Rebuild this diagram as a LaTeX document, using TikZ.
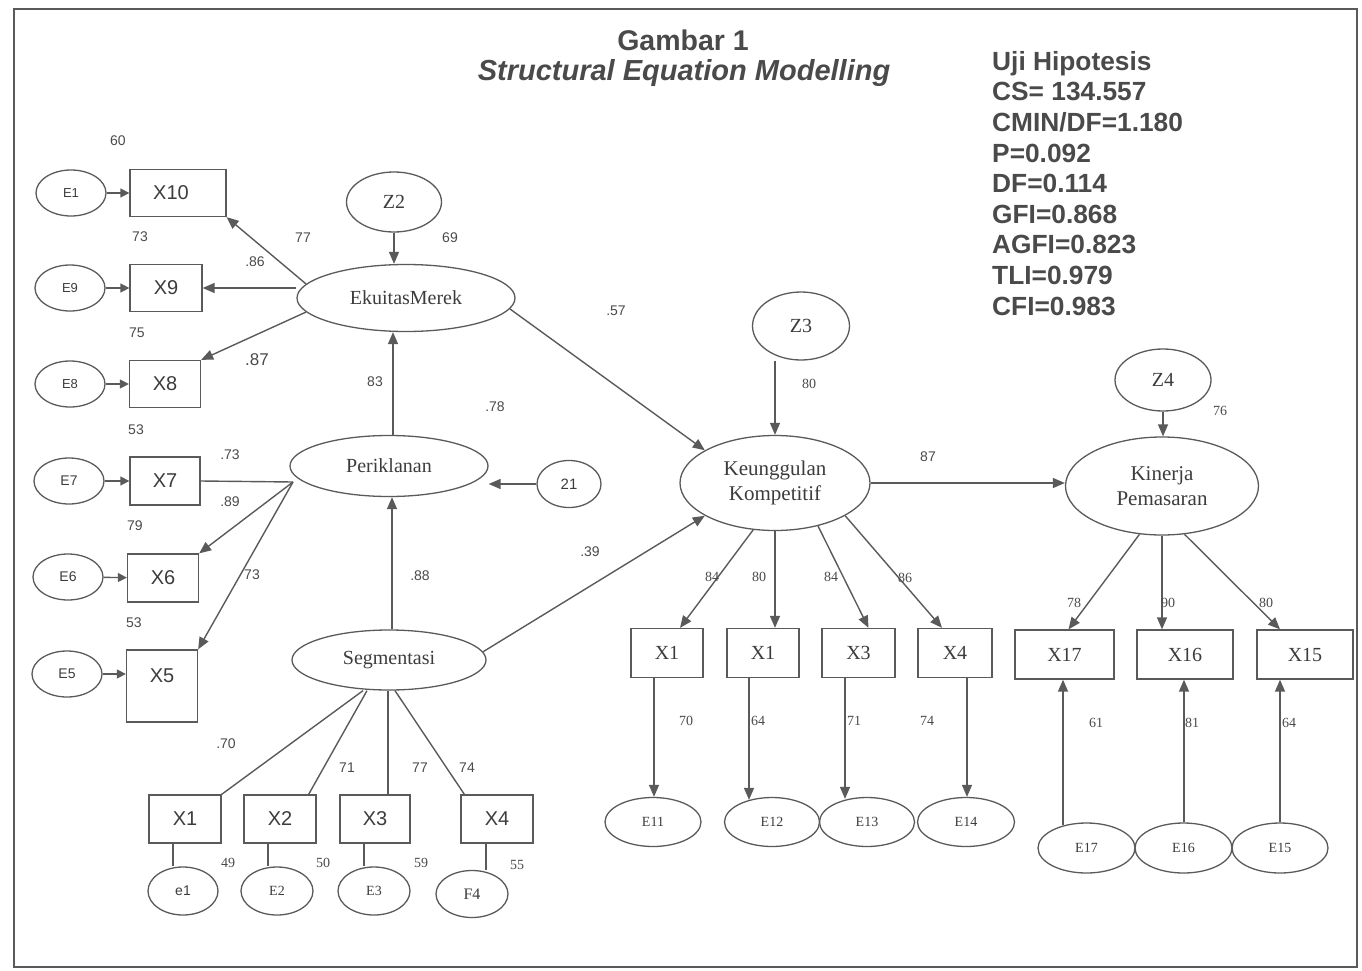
\documentclass[tikz,border=0pt]{standalone}
\usepackage{fontspec}
\setmainfont{Liberation Serif}
\newfontfamily\arial{Liberation Sans}
\usetikzlibrary{arrows.meta,shapes.geometric}
\definecolor{lc}{HTML}{5A5A5A}
\definecolor{tc}{HTML}{3C3C3C}
\definecolor{numc}{HTML}{4A4A4A}
\definecolor{titc}{HTML}{4A4A4A}
\begin{document}
\begin{tikzpicture}[x=1pt,y=-1pt,
  every node/.style={text=tc},
  lat/.style={ellipse,draw=lc,line width=1.3pt,inner sep=0pt},
  obs/.style={rectangle,draw=lc,line width=1.3pt,inner sep=0pt},
  arr/.style={draw=lc,line width=1.4pt,-{Triangle[length=12pt,width=10pt]}},
  sarr/.style={draw=lc,line width=1.4pt,-{Triangle[length=9pt,width=9pt]}},
  con/.style={draw=lc,line width=1.4pt},
  sX/.style={font=\arial\fontsize{20}{24}\selectfont},
  sE/.style={font=\arial\fontsize{13}{15}\selectfont},
  rL/.style={font=\fontsize{20}{25}\selectfont,align=center},
  rL2/.style={font=\fontsize{21}{25}\selectfont,align=center},
  rX/.style={font=\fontsize{20}{24}\selectfont},
  rE/.style={font=\fontsize{14}{16}\selectfont},
  sn/.style={font=\arial\fontsize{14}{16}\selectfont,inner sep=0pt,text=numc},
  rn/.style={font=\fontsize{14}{16}\selectfont,inner sep=0pt,text=numc},
  lE/.style={lat,minimum width=70pt,minimum height=46pt,sE},
]
\useasboundingbox (0,0) rectangle (1362,971);
\draw[draw=lc,line width=1.8pt] (14,9) rectangle (1357,967);

% ---------- titles ----------
\node[font=\arial\bfseries\fontsize{28.5}{32}\selectfont,text=titc] (t1) at (683,40) {Gambar 1};
\node[font=\arial\bfseries\itshape\fontsize{29}{32}\selectfont,text=titc] (t2) at (684,73) {Structural Equation Modelling};
\node[anchor=north west,align=left,inner sep=0pt,text=titc,
      font=\arial\bfseries\fontsize{26.3}{30.6}\selectfont] (stats) at (992,51)
  {Uji Hipotesis\\CS= 134.557\\CMIN/DF=1.180\\P=0.092\\DF=0.114\\GFI=0.868\\AGFI=0.823\\TLI=0.979\\CFI=0.983};

% ---------- left indicators ----------
\node[lE] (e1) at (71,193) {E1};
\node[obs,minimum width=96pt,minimum height=47pt,sX] (x10) at (178,193) {X10\hspace*{14pt}};
\node[lE] (e9) at (70,288) {E9};
\node[obs,minimum width=72pt,minimum height=47pt,sX] (x9) at (166,288) {X9};
\node[lE] (e8) at (70,384) {E8};
\node[obs,minimum width=71pt,minimum height=47pt,sX] (x8) at (165,384) {X8};
\node[lE,font=\arial\fontsize{14}{16}\selectfont] (e7) at (69,481) {E7};
\node[obs,minimum width=70pt,minimum height=48pt,sX] (x7) at (165,481) {X7};
\node[lE,font=\arial\fontsize{14}{16}\selectfont] (e6) at (68,577) {E6};
\node[obs,minimum width=71pt,minimum height=48pt,sX] (x6) at (163,578) {X6};
\node[lE,font=\arial\fontsize{14}{16}\selectfont] (e5) at (67,674) {E5};
\node[obs,minimum width=71pt,minimum height=72pt,text height=14pt,text depth=22pt,sX] (x5) at (162,686) {X5};

\foreach \a/\b in {e1/x10,e9/x9,e8/x8,e7/x7,e6/x6} \draw[sarr] (\a) -- (\b);
\draw[sarr] (e5.east) -- (e5.east -| x5.west);

% ---------- latent constructs ----------
\node[lat,minimum width=218pt,minimum height=67pt,rL] (em) at (406,298) {EkuitasMerek};
\node[lat,minimum width=95pt,minimum height=60pt,rX] (z2) at (394,202) {Z2};
\node[lat,minimum width=198pt,minimum height=61pt,rL] (pk) at (389,466) {Periklanan};
\node[lat,minimum width=64pt,minimum height=47pt,font=\arial\fontsize{15}{17}\selectfont] (n21) at (569,484) {21};
\node[lat,minimum width=194pt,minimum height=60pt,rL] (sg) at (389,660) {Segmentasi};
\node[lat,minimum width=190pt,minimum height=95pt,rL2] (ku) at (775,483) {Keunggulan\\Kompetitif};
\node[lat,minimum width=97pt,minimum height=68pt,rX] (z3) at (801,326) {Z3};
\node[lat,minimum width=193pt,minimum height=98pt,rL2] (kp) at (1162,486) {Kinerja\\Pemasaran};
\node[lat,minimum width=96pt,minimum height=62pt,rX] (z4) at (1163,380) {Z4};

% structural arrows
\draw[arr] (z2.south) -- (z2.south |- em.north);
\draw[arr] (em.172) -- (x10.south east);
\draw[arr] (x9.east -| em.west) -- (x9.east);
\draw[arr] (em.188) -- (x8.north east);
\draw[arr] ([xshift=4pt]pk.north) -- ([xshift=4pt]pk.north |- em.south);
\draw[arr] ([xshift=3pt]sg.north) -- ([xshift=3pt]sg.north |- pk.south);
\draw[arr] (n21.west) -- (n21.west -| pk.east);
\coordinate (hub) at (293,482);
\draw[con] (hub) -- (x7.east);
\draw[arr] (hub) -- (x6.north east);
\draw[arr] (hub) -- (x5.north east);
\draw[arr] (em.-6) -- (ku.155);
\draw[arr] (sg.5) -- (ku.205);
\draw[arr] (z3.south -| ku.north) -- (ku.north);
\draw[arr] (ku.east) -- (ku.east -| kp.west);
\draw[arr] (z4.south) -- (z4.south |- kp.north);

% ---------- Segmentasi indicators ----------
\node[obs,minimum width=72pt,minimum height=48pt,sX] (b1) at (185,819) {X1};
\node[obs,minimum width=72pt,minimum height=48pt,sX] (b2) at (280,819) {X2};
\node[obs,minimum width=70pt,minimum height=48pt,sX] (b3) at (375,819) {X3};
\node[obs,minimum width=72pt,minimum height=48pt,sX] (b4) at (497,819) {X4};
\node[lat,minimum width=70pt,minimum height=48pt,font=\arial\fontsize{14}{16}\selectfont] (be1) at (183,891) {e1};
\node[lat,minimum width=72pt,minimum height=48pt,rE] (be2) at (277,891) {E2};
\node[lat,minimum width=72pt,minimum height=48pt,rE] (be3) at (374,891) {E3};
\node[lat,minimum width=72pt,minimum height=47pt,font=\fontsize{16}{18}\selectfont] (bf4) at (472,894) {F4};

\draw[con] ([xshift=-26pt]sg.south) -- (b1.north east);
\draw[con] ([xshift=-22pt]sg.south) -- ([xshift=-8pt]b2.north east);
\draw[con] ([xshift=-1pt]sg.south) -- ([xshift=-1pt]sg.south |- b3.north);
\draw[con] ([xshift=6pt]sg.south) -- ([xshift=4pt]b4.north west);
\draw[con] ([xshift=-12pt]b1.south) -- ([xshift=-12pt]b1.south |- be1.north);
\draw[con] ([xshift=-12pt]b2.south) -- ([xshift=-12pt]b2.south |- be2.north);
\draw[con] ([xshift=-11pt]b3.south) -- ([xshift=-11pt]b3.south |- be3.north);
\draw[con] ([xshift=-11pt]b4.south) -- ([xshift=-11pt]b4.south |- bf4.north);

% ---------- Keunggulan indicators ----------
\node[obs,minimum width=72pt,minimum height=49pt,rX] (r1) at (667,653) {X1};
\node[obs,minimum width=72pt,minimum height=49pt,rX] (r2) at (763,653) {X1};
\node[obs,minimum width=73pt,minimum height=49pt,rX] (r3) at (858.5,653) {X3};
\node[obs,minimum width=74pt,minimum height=49pt,rX] (r4) at (955,653) {X4};
\node[lat,minimum width=96pt,minimum height=49pt,rE] (e11) at (653,822) {E11};
\node[lat,minimum width=95pt,minimum height=49pt,rE] (e12) at (772,822) {E12};
\node[lat,minimum width=95pt,minimum height=49pt,rE] (e13) at (867,822) {E13};
\node[lat,minimum width=97pt,minimum height=49pt,rE] (e14) at (966,822) {E14};

\draw[arr] (ku.-115) -- ([xshift=13pt]r1.north);
\draw[arr] (ku.south) -- (ku.south |- r2.north);
\draw[arr] (ku.-45) -- ([xshift=10pt]r3.north);
\draw[arr] (ku.-25) -- ([xshift=-13pt]r4.north);
\draw[arr] ([xshift=-13pt]r1.south) -- ([xshift=-13pt]r1.south |- e11.north);
\draw[arr] ([xshift=-14pt]r2.south) -- ([xshift=-14pt,yshift=-3pt]r2.south |- e12.north);
\draw[arr] ([xshift=-13.5pt]r3.south) -- ([xshift=-13.5pt,yshift=-2pt]r3.south |- e13.north);
\draw[arr] ([xshift=12pt]r4.south) -- ([xshift=12pt]r4.south |- e14.north);

% ---------- Kinerja indicators ----------
\node[obs,minimum width=99pt,minimum height=49pt,rX] (x17) at (1064.5,654.5) {X17};
\node[obs,minimum width=96pt,minimum height=49pt,rX] (x16) at (1185,654.5) {X16};
\node[obs,minimum width=96pt,minimum height=49pt,rX] (x15) at (1305,654.5) {X15};
\node[lat,minimum width=97pt,minimum height=50pt,rE] (e17) at (1086.5,848) {E17};
\node[lat,minimum width=97pt,minimum height=50pt,rE] (e16) at (1183.5,848) {E16};
\node[lat,minimum width=96pt,minimum height=50pt,rE] (e15) at (1280,848) {E15};

\draw[arr] (kp.-115) -- ([xshift=4pt]x17.north);
\draw[arr] (kp.south) -- (kp.south |- x16.north);
\draw[arr] (kp.-65) -- ([xshift=-25pt]x15.north);
\draw[arr] ([xshift=-1.5pt,yshift=-2.5pt]x17.south |- e17.north) -- ([xshift=-1.5pt]x17.south);
\draw[arr] ([xshift=0.5pt]e16.north) -- ([xshift=0.5pt]e16.north |- x16.south);
\draw[arr] (e15.north) -- (e15.north |- x15.south);

% ---------- coefficient labels ----------
\node[sn] (l01) at (118,141) {60};
\node[sn] (l02) at (140,237) {73};
\node[sn] (l03) at (137,333) {75};
\node[sn] (l04) at (136,430) {53};
\node[sn] (l05) at (135,526) {79};
\node[sn] (l06) at (134,623) {53};
\node[sn] (l07) at (303,238) {77};
\node[sn] (l08) at (255,262) {.86};
\node[sn,font=\arial\fontsize{17}{19}\selectfont] (l09) at (257,360) {.87};
\node[sn] (l10) at (230,455) {.73};
\node[sn] (l11) at (230,502) {.89};
\node[sn] (l12) at (252,575) {73};
\node[sn] (l13) at (450,238) {69};
\node[sn] (l14) at (375,382) {83};
\node[sn] (l15) at (495,407) {.78};
\node[sn] (l16) at (616,311) {.57};
\node[sn] (l17) at (420,576) {.88};
\node[sn] (l18) at (590,552) {.39};
\node[sn] (l19) at (226,744) {.70};
\node[sn] (l20) at (347,768) {71};
\node[sn] (l21) at (420,768) {77};
\node[sn] (l22) at (467,768) {74};
\node[rn] (l23) at (228,863) {49};
\node[rn] (l24) at (323,863) {50};
\node[rn] (l25) at (421,863) {59};
\node[rn] (l26) at (517,865) {55};
\node[rn] (l27) at (809,384) {80};
\node[sn] (l28) at (928,457) {87};
\node[rn] (l29) at (1220,411) {76};
\node[rn] (l30) at (712,577) {84};
\node[rn] (l31) at (759,577) {80};
\node[rn] (l32) at (831,577) {84};
\node[rn] (l33) at (905,578) {86};
\node[rn] (l34) at (686,721) {70};
\node[rn] (l35) at (758,721) {64};
\node[rn] (l36) at (854,721) {71};
\node[rn] (l37) at (927,721) {74};
\node[rn] (l38) at (1074,603) {78};
\node[rn] (l39) at (1168,603) {90};
\node[rn] (l40) at (1266,603) {80};
\node[rn] (l41) at (1096,723) {61};
\node[rn] (l42) at (1192,723) {81};
\node[rn] (l43) at (1289,723) {64};
\end{tikzpicture}
\end{document}
